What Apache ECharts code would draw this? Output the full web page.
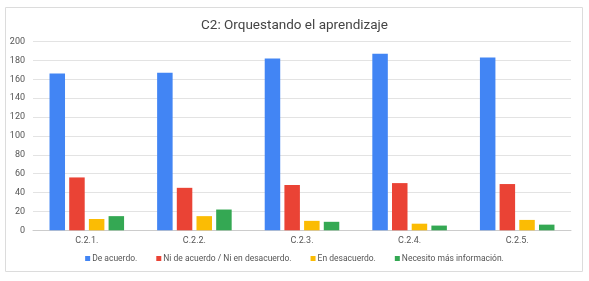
<!DOCTYPE html>
<html><head><meta charset="utf-8">
<script src="https://cdn.jsdelivr.net/npm/echarts@6/dist/echarts.min.js"></script>
<style>html,body{margin:0;padding:0;background:#fff}#c{width:589px;height:281px}</style>
</head><body><div id="c"></div>
<script>
const categories = ['C.2.1.', 'C.2.2.', 'C.2.3.', 'C.2.4.', 'C.2.5.'];
const seriesNames = ['De acuerdo.', 'Ni de acuerdo / Ni en desacuerdo.', 'En desacuerdo.', 'Necesito más información.'];
const deAcuerdo = [166, 167, 182, 187, 183];
const niDeAcuerdo = [56, 45, 48, 50, 49];
const enDesacuerdo = [12, 15, 10, 7, 11];
const necesitoInfo = [15, 22, 9, 5, 6];
const yTicks = [0, 20, 40, 60, 80, 100, 120, 140, 160, 180, 200];
const colors = ['#4285F4', '#EA4335', '#FBBC04', '#34A853'];
const values = [deAcuerdo, niDeAcuerdo, enDesacuerdo, necesitoInfo];

const chart = echarts.init(document.getElementById('c'), null, {renderer: 'canvas'});
chart.setOption({
  animation: false,
  textStyle: {fontFamily: 'Roboto, Arial, sans-serif'},
  graphic: [{type: 'rect', shape: {x: 5.5, y: 7.5, width: 577, height: 264}, style: {fill: 'none', stroke: '#dcdcdc', lineWidth: 1}, z: -10}],
  title: {text: 'C2: Orquestando el aprendizaje', left: 'center', top: 14,
    textStyle: {fontSize: 13.5, fontWeight: 'normal', color: '#444', fontFamily: 'Roboto, Arial, sans-serif'}},
  legend: {bottom: 13, left: 'center', itemWidth: 5, itemHeight: 5, itemGap: 19, icon: 'rect',
    textStyle: {fontSize: 8.5, color: '#555', padding: [0, 0, 0, -3]}, data: seriesNames},
  grid: {left: 33, right: 18, top: 41.5, bottom: 50.7, containLabel: false},
  xAxis: {type: 'category', data: categories,
    axisLine: {lineStyle: {color: '#cccccc'}}, axisTick: {show: false},
    axisLabel: {fontSize: 9, color: '#555', margin: 6}},
  yAxis: {type: 'value', min: yTicks[0], max: yTicks[yTicks.length - 1], interval: 20,
    axisLine: {show: false}, axisTick: {show: false},
    axisLabel: {fontSize: 9, color: '#555', margin: 8},
    splitLine: {lineStyle: {color: '#e3e3e3'}}},
  series: seriesNames.map((n, i) => ({
    name: n, type: 'bar', data: values[i], barWidth: 15.5, barGap: '27%',
    itemStyle: {color: colors[i]}
  }))
});
</script></body></html>
